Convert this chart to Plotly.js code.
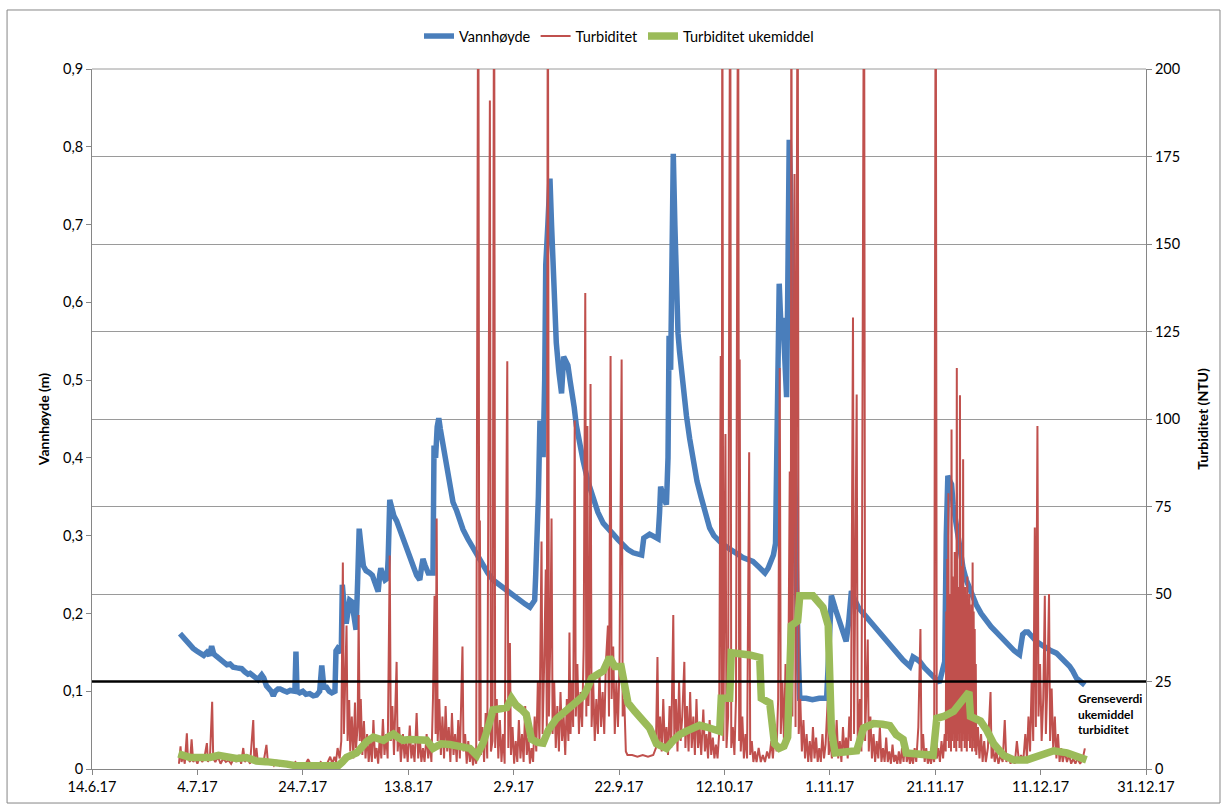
<!DOCTYPE html>
<html>
<head>
<meta charset="utf-8">
<script src="https://cdn.plot.ly/plotly-3.0.1.min.js"></script>
<style>html,body{margin:0;padding:0;background:#fff;}#chart{width:1223px;height:805px;}</style>
</head>
<body>
<div id="chart"></div>
<script>
// x values are days since 14.6.2017
const startDate = '2017-06-14';
const endDate = '2017-12-31';
const xTickStepDays = 20;
const seriesNames = ['Vannhøyde', 'Turbiditet', 'Turbiditet ukemiddel'];
const thresholdNTU = 25;
const thresholdLabel = 'Grenseverdi<br>ukemiddel<br>turbiditet';

// Vannhøyde (m) : [day, value]
const vannhoyde = [[16.7,0.174],[17.2,0.170],[17.8,0.165],[18.6,0.161],[19.2,0.155],[19.8,0.152],[20.5,0.149],[21.2,0.146],[21.8,0.150],[22.3,0.146],[22.7,0.158],[23.1,0.148],[23.6,0.145],[24.3,0.141],[25.0,0.138],[25.6,0.134],[26.2,0.135],[26.8,0.131],[27.5,0.130],[28.4,0.129],[29.0,0.125],[29.6,0.122],[30.0,0.123],[30.8,0.118],[31.5,0.115],[32.2,0.121],[32.6,0.117],[33.1,0.107],[33.6,0.104],[34.0,0.100],[34.4,0.094],[34.8,0.100],[35.3,0.103],[35.7,0.103],[36.3,0.101],[37.0,0.099],[37.6,0.101],[38.2,0.100],[38.5,0.100],[38.7,0.151],[38.9,0.100],[39.4,0.098],[40.0,0.100],[40.6,0.096],[41.3,0.097],[42.0,0.094],[42.6,0.095],[43.2,0.100],[43.6,0.133],[44.0,0.105],[44.5,0.105],[45.0,0.100],[45.5,0.098],[46.1,0.100],[46.3,0.152],[46.6,0.155],[47.0,0.152],[47.3,0.150],[47.5,0.237],[47.8,0.210],[48.1,0.190],[48.3,0.190],[48.6,0.210],[48.9,0.217],[49.3,0.215],[49.7,0.195],[50.1,0.179],[50.4,0.240],[50.7,0.309],[51.0,0.290],[51.5,0.261],[52.0,0.255],[52.4,0.254],[52.7,0.252],[53.2,0.249],[53.6,0.240],[54.0,0.232],[54.3,0.228],[54.6,0.250],[54.8,0.258],[55.2,0.250],[55.6,0.243],[56.0,0.245],[56.2,0.270],[56.5,0.346],[56.9,0.335],[57.3,0.325],[57.8,0.319],[58.4,0.307],[59.0,0.296],[59.6,0.285],[60.3,0.272],[61.0,0.260],[61.6,0.249],[62.0,0.244],[62.2,0.243],[62.5,0.258],[62.8,0.270],[63.2,0.262],[63.8,0.252],[64.3,0.252],[64.7,0.252],[64.9,0.416],[65.2,0.400],[65.5,0.440],[65.8,0.451],[66.1,0.437],[66.5,0.420],[67.0,0.400],[67.5,0.380],[67.9,0.360],[68.5,0.343],[69.2,0.332],[69.8,0.318],[70.4,0.308],[71.3,0.296],[72.3,0.284],[73.2,0.272],[74.2,0.261],[75.1,0.252],[76.1,0.243],[77.4,0.236],[78.7,0.229],[80.0,0.222],[81.2,0.217],[82.2,0.212],[83.1,0.208],[83.6,0.212],[84.0,0.217],[84.2,0.250],[84.4,0.278],[84.7,0.350],[85.0,0.448],[85.3,0.420],[85.6,0.401],[85.9,0.500],[86.1,0.648],[86.5,0.700],[86.9,0.759],[87.2,0.700],[87.5,0.648],[87.8,0.590],[88.1,0.548],[88.6,0.510],[89.1,0.483],[89.5,0.530],[89.9,0.522],[90.3,0.519],[90.7,0.500],[91.0,0.489],[91.5,0.465],[91.9,0.442],[92.5,0.418],[93.2,0.396],[94.1,0.370],[95.1,0.349],[96.0,0.330],[97.0,0.316],[97.9,0.308],[98.9,0.302],[99.8,0.295],[100.8,0.287],[101.7,0.282],[102.7,0.278],[103.5,0.277],[104.3,0.275],[104.7,0.297],[105.2,0.300],[105.8,0.302],[106.6,0.299],[107.4,0.296],[107.7,0.330],[107.9,0.363],[108.4,0.350],[109.0,0.340],[109.3,0.400],[109.5,0.557],[109.8,0.513],[110.0,0.600],[110.3,0.791],[110.6,0.700],[110.9,0.583],[111.2,0.560],[111.5,0.536],[112.1,0.495],[112.8,0.454],[113.4,0.425],[114.1,0.396],[114.8,0.370],[115.6,0.349],[116.4,0.330],[117.2,0.310],[118.0,0.300],[118.8,0.294],[119.5,0.290],[120.5,0.285],[121.6,0.281],[122.6,0.276],[123.5,0.272],[124.5,0.269],[125.4,0.267],[126.5,0.260],[127.7,0.252],[128.3,0.258],[128.9,0.267],[129.3,0.275],[129.7,0.290],[130.0,0.450],[130.4,0.624],[130.6,0.590],[130.8,0.560],[131.1,0.580],[131.5,0.520],[131.8,0.478],[132.0,0.600],[132.3,0.809],[132.5,0.760],[132.7,0.653],[133.0,0.520],[133.4,0.413],[133.7,0.237],[134.0,0.150],[134.3,0.091],[135.5,0.091],[136.7,0.089],[138.0,0.091],[139.4,0.091],[139.8,0.150],[140.3,0.223],[141.1,0.205],[141.9,0.190],[142.5,0.176],[143.1,0.164],[143.6,0.190],[144.1,0.229],[144.7,0.218],[145.4,0.208],[146.5,0.199],[147.6,0.190],[148.8,0.180],[150.1,0.170],[151.3,0.160],[152.6,0.149],[153.9,0.140],[155.2,0.132],[155.8,0.144],[156.5,0.141],[157.1,0.138],[158.0,0.130],[159.0,0.123],[159.8,0.116],[160.5,0.111],[160.8,0.111],[161.3,0.125],[161.8,0.138],[162.1,0.300],[162.4,0.377],[162.8,0.370],[163.1,0.366],[163.4,0.340],[163.7,0.325],[164.2,0.300],[164.7,0.278],[165.3,0.258],[165.9,0.243],[166.8,0.226],[167.8,0.211],[168.7,0.200],[169.7,0.190],[170.6,0.183],[171.6,0.176],[172.8,0.167],[174.1,0.158],[175.0,0.152],[176.0,0.147],[176.3,0.160],[176.6,0.173],[177.1,0.176],[177.6,0.176],[178.4,0.170],[179.2,0.164],[180.1,0.160],[181.1,0.155],[182.0,0.152],[183.0,0.149],[183.9,0.143],[184.9,0.138],[185.5,0.132],[186.1,0.126],[186.8,0.117],[187.5,0.113],[188.4,0.108]];

// Turbiditet (NTU) : [day, value]  (values above 200 run off the top of the axis)
const turbiditet = [[16.5,1.5],[16.8,6.5],[17.0,2],[17.3,4],[17.6,1.5],[18.0,10.2],[18.2,3],[18.6,2],[18.9,8.5],[19.2,2],[19.6,3],[20.0,1.5],[20.5,4],[20.9,2],[21.3,3],[21.8,7.4],[22.0,2],[22.4,4],[22.8,19.2],[23.0,3],[23.4,2],[23.9,3.5],[24.4,1.5],[24.9,3],[25.4,2],[25.9,2.5],[26.4,1.5],[26.9,3],[27.4,2],[27.9,4],[28.3,1.5],[28.7,6],[29.0,2],[29.5,3],[30.0,1.5],[30.6,14],[30.8,2],[31.2,6],[31.5,1.5],[32.0,3],[32.5,1.5],[33.1,6.9],[33.4,1.5],[34.0,2],[34.5,1],[35.0,2.5],[35.6,1],[36.2,2],[36.8,1],[37.4,1.5],[38.0,1],[38.6,2],[39.2,1],[39.8,1.5],[40.4,1],[41.0,2.8],[41.6,1],[42.2,1.5],[42.8,1],[43.4,2],[44.0,1],[44.6,1.5],[45.2,3.5],[45.6,1.5],[46.0,3.5],[46.3,2],[46.6,6],[47.0,3],
[47.3,8],[47.6,59],[47.8,10],[48.0,20],[48.3,41],[48.5,8],[48.8,19.7],[49.0,5],[49.3,15],[49.6,3],[49.9,19],[50.1,6],[50.4,12],[50.6,44],[50.8,8],[51.0,20],[51.3,4],[51.6,13.7],[51.9,3],[52.2,10],[52.5,2],[52.8,8],[53.1,2],[53.4,14],[53.7,3],[54.0,6],[54.3,1.5],[54.6,9],[54.9,3],[55.2,14.3],[55.5,4],[55.8,10],[56.1,3],[56.5,61],[56.7,8],[57.0,18],[57.3,4],[57.8,30.6],[58.0,5],[58.3,12],[58.6,2],[59.0,10],[59.3,3],[59.6,8],[59.9,2],[60.3,12.4],[60.6,3],[60.9,7],[61.2,2],[61.6,16],[61.9,3],[62.2,9],[62.5,2],[62.8,6],[63.1,2],[63.5,10],[63.8,3],[64.1,8],[64.4,2],[64.7,20],[65.0,49.5],[65.2,10],[65.4,71.6],[65.6,8],[65.9,20],
[66.2,4],[66.5,15],[66.8,3],[67.1,18],[67.4,5],[67.7,12],[68.0,2],[68.3,16],[68.6,4],[68.9,10],[69.2,2],[69.5,14],[69.8,3],[70.3,35],[70.5,5],[70.8,10],[71.1,1.5],[71.4,8],[71.7,2],[72.0,6],[72.3,1],[72.6,5],[72.9,1.5],[73.3,250],[73.5,8],[73.6,71],[73.8,4],[74.1,12],[74.4,2],[74.7,16],[75.0,3],[75.5,191],[75.7,5],[76.0,8],[76.3,250],[76.5,6],[76.8,20],[77.1,3],[77.4,14],[77.7,2],[78.0,10],[78.3,1.5],[78.8,116.5],[79.0,6],[79.3,36],[79.5,4],[79.8,12],[80.1,1.5],[80.4,8],[80.7,2],[81.0,14],[81.3,3],[81.6,10],[81.9,2],[82.2,18],[82.5,4],[82.8,9],[83.1,1.5],[83.4,6],[83.7,2],[84.0,15],[84.3,5],[84.6,25],[84.9,8],
[85.3,65],[85.5,10],[85.8,30],[86.1,57],[86.3,12],[86.5,250],[86.7,15],[87.0,40],[87.2,71.6],[87.4,10],[87.7,25],[88.0,6],[88.3,18],[88.6,5],[88.9,22],[89.2,8],[89.5,15],[89.8,4],[90.1,20],[90.4,8],[90.6,39],[90.8,10],[91.1,25],[91.3,12],[91.6,99.6],[91.8,15],[92.1,30],[92.4,10],[92.7,22],[93.0,12],[93.3,35],[93.6,136],[93.8,15],[94.0,98],[94.2,18],[94.4,30],[94.6,110],[94.8,12],[95.1,25],[95.4,8],[95.7,20],[96.0,10],[96.3,28],[96.6,12],[96.9,22],[97.2,10],[97.5,30],[97.9,41],[98.1,15],[98.4,118],[98.6,20],[98.9,35],[99.2,10],[99.5,25],[99.8,12],[100.1,30],[100.5,117],[100.7,15],[101.0,20],[101.3,5],[101.6,4],[102.5,4],[103.5,3.5],[104.5,4],[105.5,3.5],[106.5,4],[107.0,6],
[107.3,32],[107.5,6],[107.8,15],[108.1,5],[108.4,20],[108.7,6],[109.0,12],[109.3,4],[109.6,18],[109.9,6],[110.3,44],[110.5,8],[110.8,20],[111.1,5],[111.4,25],[111.7,8],[112.0,15],[112.4,30.6],[112.6,6],[112.9,18],[113.2,5],[113.5,22],[113.8,6],[114.1,15],[114.4,4],[114.7,20],[115.0,6],[115.3,12],[115.6,4],[116.0,17],[116.3,5],[116.6,10],[116.9,3],[117.2,14],[117.5,4],[117.8,9],[118.1,3],[118.4,7],[118.7,3],[119.0,10],
[119.3,118],[119.5,10],[119.6,250],[119.8,8],[120.2,95.7],[120.4,6],[120.7,15],[121.1,250],[121.3,6],[121.6,12],[121.9,4],[122.2,20],[122.6,250],[122.8,8],[122.9,117],[123.1,5],[123.4,15],[123.7,3],[124.0,10],[124.3,3],[124.7,90.5],[124.9,4],[125.2,8],[125.5,2],[125.8,5],[126.1,2],[126.5,6],[126.9,2],[127.3,4],[127.7,2],[128.1,5],[128.5,3],[128.9,8],[129.2,3],[129.6,12],[129.9,5],[130.2,20],[130.5,114.6],[130.7,10],[131.0,25],[131.3,8],[131.6,30],[131.9,10],[132.2,40],[132.4,85],[132.6,20],[132.7,250],[132.9,15],[133.3,170],[133.5,12],[133.9,250],[134.1,10],[134.4,20],[134.7,5],[135.0,14],[135.3,3],[135.6,10],[135.9,2],[136.2,8],[136.5,2],[136.8,12],[137.1,3],[137.4,9],[137.7,2],[138.0,6],[138.3,2],[138.6,10],[138.9,3],[139.2,7],[139.6,19.5],[139.8,4],[140.1,8],
[140.4,3],[140.7,10],[141.0,4],[141.3,14],[141.6,3],[141.9,8],[142.2,2],[142.5,12],[142.8,4],[143.1,9],[143.4,3],[143.7,15],[144.0,8],[144.4,129],[144.6,10],[145.1,107],[145.3,6],[145.7,20],[146.0,5],[146.5,250],[146.7,8],[147.2,37],[147.4,5],[147.7,15],[148.0,3],[148.3,10],[148.6,2],[148.9,8],[149.2,3],[149.5,12],[149.8,2],[150.1,6],[150.4,2],[150.7,9],[151.0,2],[151.3,5],[151.6,1.5],[151.9,7],[152.2,2],[152.5,4],[152.8,1.5],[153.1,5],[153.4,1.5],[153.7,6],[154.0,2],[154.3,9],[154.6,2],[154.9,5],[155.2,1.5],[155.5,4],[155.8,1.5],[156.1,6],[156.4,2],[156.8,12],[157.2,40],[157.4,5],[157.7,10],[158.0,2],[158.3,6],[158.6,1.5],[158.9,4],[159.2,1.5],[159.5,5],[159.8,2],[160.1,250],[160.3,3],[160.6,6],[160.9,2],[161.2,8],[161.5,3],[161.8,10],
[162.0,5],[162.1,45],[162.2,8],[162.3,60],[162.4,10],[162.5,78.8],[162.6,6],[162.7,50],[162.8,12],[162.9,48],[163.0,5],[163.1,97],[163.2,8],[163.3,55],[163.4,10],[163.5,46],[163.6,6],[163.7,62],[163.8,12],[163.9,50],[164.0,5],[164.1,114.6],[164.2,8],[164.3,52],[164.4,10],[164.5,47],[164.6,6],[164.7,106.8],[164.8,12],[164.9,58],[165.0,5],[165.1,50],[165.2,8],[165.3,88.5],[165.4,10],[165.5,46],[165.6,6],[165.7,52],[165.8,12],[165.9,48],[166.0,5],[166.1,55],[166.2,8],[166.3,45],[166.4,10],[166.5,50],[166.6,6],[166.7,44],[166.8,12],[166.9,47],[167.0,5],[167.1,59],[167.2,8],[167.3,45],[167.4,6],[167.5,40],[167.6,5],[167.7,30],[167.8,4],[168.1,12],[168.4,3],[168.7,10],[169.0,2],[169.3,8],[169.6,2],[170.0,6],[170.5,22],[170.7,3],[171.0,6],[171.3,2],[171.6,5],[172.0,1.5],[172.4,4],[172.8,2],[173.2,14],[173.5,2],[173.9,4],[174.3,1.5],[174.7,3],[175.1,1.5],[175.5,8],[175.9,2],[176.3,4],[176.7,2],[177.1,10],[177.4,3],[177.7,15],[178.0,5],[178.3,25],[178.6,8],[178.9,69],[179.1,12],[179.4,98],[179.6,15],[179.9,30],[180.2,8],[180.5,20],[180.8,49.5],[181.0,10],[181.3,25],[181.6,50],[181.8,8],[182.1,23],[182.4,5],[182.7,15],[183.0,3],[183.3,10],[183.6,2],[183.9,6],[184.2,2],[184.6,5],[185.0,2],[185.4,4],[185.8,1.5],[186.2,3],[186.6,1.5],[187.0,3],[187.5,1.5],[188.0,3],[188.4,5.9]];

// Turbiditet ukemiddel (NTU) : [day, value]
const ukemiddel = [[16.4,4.3],[17.5,3.8],[18.6,3.3],[20.5,3.3],[22.4,3.3],[24.0,3.9],[25.5,3.4],[27.4,3.0],[29.3,3.3],[31.2,2.3],[33.0,2.1],[35.0,2.0],[37.0,1.4],[38.8,0.9],[41.0,0.9],[43.2,0.9],[45.0,0.9],[46.7,0.9],[47.5,2.0],[48.3,3.3],[50.2,4.6],[51.2,6.5],[52.1,7.8],[53.4,9.1],[54.4,8.6],[55.3,8.2],[56.3,9.2],[57.2,10.0],[58.1,9.0],[59.0,8.2],[60.3,8.4],[61.6,8.5],[63.5,8.2],[64.7,5.9],[65.5,6.8],[66.3,7.2],[67.9,7.0],[69.8,6.5],[71.7,5.9],[73.0,3.9],[74.2,7.4],[75.2,12.0],[76.1,16.9],[77.5,17.2],[78.7,17.6],[79.6,20.2],[80.5,18.2],[81.5,17.0],[82.4,15.6],[83.4,8.5],[84.5,7.6],[85.6,7.4],[86.6,11.1],[88.1,14.3],[89.4,16.0],[90.7,17.8],[92.0,19.2],[93.2,20.8],[94.0,23.0],[94.8,26.0],[95.9,27.0],[97.0,28.0],[98.2,31.9],[99.2,29.3],[100.4,29.3],[101.0,24.0],[101.7,18.9],[103.0,16.5],[104.5,14.3],[105.8,11.7],[107.1,7.2],[109.0,5.9],[110.2,8.0],[111.5,9.8],[112.8,10.8],[114.1,11.7],[115.3,12.5],[116.6,12.0],[117.8,11.2],[119.1,10.8],[119.4,20.2],[121.0,20.2],[121.3,33.2],[123.0,33.0],[124.8,32.6],[126.7,31.9],[127.0,20.2],[128.6,18.9],[129.5,7.2],[130.4,5.9],[131.3,6.5],[132.0,9.1],[132.5,25.0],[132.7,41.0],[133.9,42.3],[134.3,49.5],[136.8,49.5],[138.7,46.2],[139.7,41.0],[140.3,11.1],[141.0,4.6],[143.0,4.8],[145.1,5.2],[146.4,11.7],[148.3,13.0],[150.0,12.8],[151.4,12.4],[152.6,9.8],[153.9,8.5],[154.5,4.6],[157.0,4.0],[159.6,3.9],[160.3,14.5],[161.6,15.0],[163.5,16.5],[164.8,19.0],[166.4,22.0],[166.7,15.0],[168.6,13.7],[169.8,11.0],[171.1,7.2],[173.0,3.9],[174.9,2.6],[177.4,2.6],[179.9,3.9],[182.5,5.2],[185.0,4.6],[186.9,3.3],[188.7,2.6]];

const DAY_MS = 86400000;
const startMs = Date.parse(startDate + 'T00:00:00Z');
const endMs = Date.parse(endDate + 'T00:00:00Z');
const toX = d => startMs + d * DAY_MS;

const fontFam = 'Lato, "Liberation Sans", sans-serif';

const traces = [
  {
    name: seriesNames[0], type: 'scatter', mode: 'lines',
    x: vannhoyde.map(p => toX(p[0])), y: vannhoyde.map(p => p[1]),
    yaxis: 'y', line: {color: '#4A7EBB', width: 5.5}
  },
  {
    name: seriesNames[1], type: 'scatter', mode: 'lines',
    x: turbiditet.map(p => toX(p[0])), y: turbiditet.map(p => p[1]),
    yaxis: 'y2', line: {color: '#C0504D', width: 2}
  },
  {
    name: seriesNames[2], type: 'scatter', mode: 'lines',
    x: ukemiddel.map(p => toX(p[0])), y: ukemiddel.map(p => p[1]),
    yaxis: 'y2', line: {color: '#9BBB59', width: 7.5}
  }
];

const axisCol = '#868686';
const tickFont = {family: fontFam, size: 14.5, color: '#000'};
const layout = {
  width: 1223, height: 805,
  margin: {l: 92, r: 77, t: 69, b: 36},
  paper_bgcolor: '#fff', plot_bgcolor: '#fff',
  separators: ', ',
  font: {family: fontFam, size: 14, color: '#000'},
  showlegend: true,
  legend: {orientation: 'h', x: 0.5, xanchor: 'center', y: 1.047, yanchor: 'middle',
           font: {family: fontFam, size: 14.5, color: '#000'}, bgcolor: 'rgba(0,0,0,0)'},
  xaxis: {
    type: 'date', range: [startMs, endMs], tick0: startMs, dtick: xTickStepDays * DAY_MS,
    tickformat: '%-d.%-m.%y', showgrid: false, zeroline: false,
    showline: true, linecolor: axisCol, linewidth: 1,
    ticks: 'outside', ticklen: 5, tickcolor: axisCol,
    tickfont: tickFont
  },
  yaxis: {
    range: [0, 0.9], dtick: 0.1, tick0: 0, showgrid: false, zeroline: false,
    showline: true, linecolor: axisCol, linewidth: 1,
    ticks: 'outside', ticklen: 5, tickcolor: axisCol,
    tickfont: tickFont,
    title: {text: '<b>Vannhøyde (m)</b>', font: {family: fontFam, size: 14, color: '#000'}, standoff: 10}
  },
  yaxis2: {
    overlaying: 'y', side: 'right', range: [0, 200], dtick: 25, tick0: 0,
    showgrid: true, gridcolor: '#9a9a9a', gridwidth: 1, zeroline: false,
    showline: true, linecolor: axisCol, linewidth: 1,
    ticks: 'outside', ticklen: 5, tickcolor: axisCol,
    tickfont: tickFont,
    title: {text: '<b>Turbiditet (NTU)</b>', font: {family: fontFam, size: 14, color: '#000'}, standoff: 19}
  },
  shapes: [
    {type: 'line', xref: 'paper', yref: 'y2', x0: 0, x1: 1, y0: thresholdNTU, y1: thresholdNTU,
     line: {color: '#000', width: 2.5}, layer: 'above'},
    {type: 'line', xref: 'paper', yref: 'paper', x0: 0, x1: 1, y0: 1, y1: 1,
     line: {color: '#9a9a9a', width: 1}, layer: 'below'},
    {type: 'rect', xref: 'paper', yref: 'paper', x0: -0.0806, x1: 1.0702, y0: -0.0486, y1: 1.0843,
     line: {color: axisCol, width: 1}, fillcolor: 'rgba(0,0,0,0)', layer: 'below'}
  ],
  annotations: [
    {xref: 'paper', yref: 'paper', x: 0.9336, y: 0.115, xanchor: 'left', yanchor: 'top', align: 'left',
     showarrow: false, text: '<b>' + thresholdLabel + '</b>',
     font: {family: fontFam, size: 12, color: '#000'}}
  ]
};

Plotly.newPlot('chart', traces, layout, {displayModeBar: false, staticPlot: true});
</script>
</body>
</html>
